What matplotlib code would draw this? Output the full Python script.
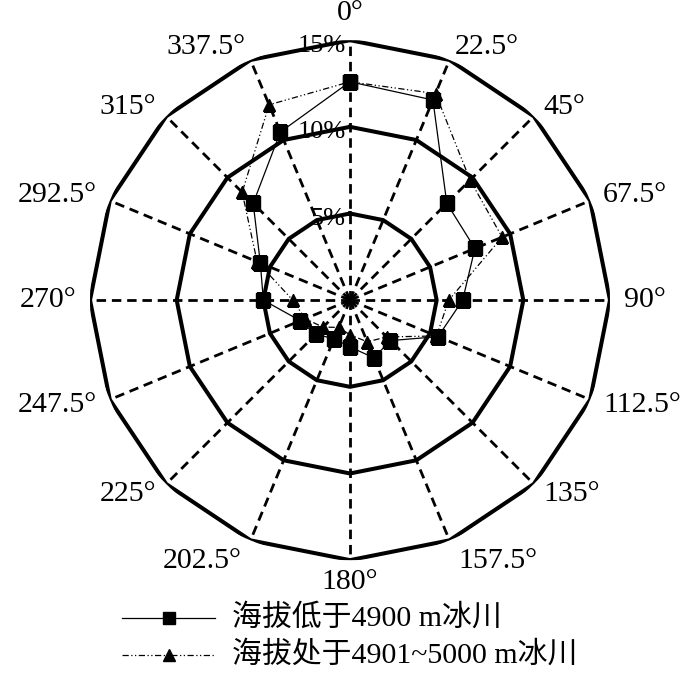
import numpy as np
import matplotlib
matplotlib.use("Agg")
import matplotlib.pyplot as plt
from matplotlib.lines import Line2D

# directions (degrees, clockwise from north) and frequencies (%)
directions = [0, 22.5, 45, 67.5, 90, 112.5, 135, 157.5,
              180, 202.5, 225, 247.5, 270, 292.5, 315, 337.5]
dir_labels = ["0°", "22.5°", "45°", "67.5°", "90°", "112.5°", "135°", "157.5°",
              "180°", "202.5°", "225°", "247.5°", "270°", "292.5°", "315°", "337.5°"]
below_4900 = [12.6, 12.5, 7.9, 7.8, 6.5, 5.5, 3.3, 3.6,
              2.7, 2.4, 2.8, 3.1, 5.0, 5.6, 7.9, 10.5]
from_4901_5000 = [12.6, 12.9, 9.8, 9.5, 5.7, 5.4, 3.0, 2.6,
                  2.0, 1.7, 2.2, 2.8, 3.3, 5.8, 8.8, 12.2]
ring_values = [5, 10, 15]
ring_labels = ["5%", "10%", "15%"]
series_names = ["海拔低于4900 m冰川", "海拔处于4901~5000 m冰川"]

SERIF = ["Liberation Serif", "Noto Sans CJK SC"]
W, H = 700, 673

fig = plt.figure(figsize=(W / 100, H / 100), dpi=100)
ax = fig.add_axes([0.1286, 0.1677, 0.7428, 0.7726], projection="polar")
ax.set_theta_zero_location("N")
ax.set_theta_direction(-1)
ax.set_ylim(0, 15)
ax.axis("off")

theta = np.deg2rad(directions)
theta_closed = np.append(theta, theta[0])

# spokes
for t in theta:
    ax.plot([t, t], [0, 15], color="black", lw=2.0,
            linestyle=(0, (3.4, 2.1)), zorder=1)

# polygon rings
for rv in ring_values:
    ax.plot(theta_closed, [rv] * len(theta_closed), color="black", lw=2.9,
            solid_joinstyle="miter", zorder=2)

# ring labels on the 0 deg spoke
for rv, lbl in zip(ring_values, ring_labels):
    ax.annotate(lbl, xy=(0, rv), xytext=(-3, -4), textcoords="offset points",
                ha="right", va="center", fontsize=19, family=SERIF, zorder=3)

# direction labels
for t, lbl in zip(theta, dir_labels):
    s, c = np.sin(t), np.cos(t)
    ha = "left" if s > 0.1 else ("right" if s < -0.1 else "center")
    if c > 0.95:
        va = "bottom"
    elif c < -0.95:
        va = "top"
    else:
        va = "center"
    if c < -0.95:
        r = 15.5
    elif c < -0.9:
        r = 16.3
    else:
        r = 15.8
    ax.text(t, r, lbl, ha=ha, va=va, fontsize=21.5, family=SERIF,
            clip_on=False)

dashdotdot = (0, (5, 2, 1, 2, 1, 2))
v2 = np.append(from_4901_5000, from_4901_5000[0])
v1 = np.append(below_4900, below_4900[0])
ax.plot(theta_closed, v2, color="black", lw=0.9, linestyle=dashdotdot,
        marker="^", markersize=9, zorder=4)
ax.plot(theta_closed, v1, color="black", lw=0.9, linestyle="-",
        marker="s", markersize=9.5, zorder=5)

# legend drawn by hand
legend_rows = [
    dict(ls="-", marker="s", ms=9, y=618),
    dict(ls=dashdotdot, marker="^", ms=8.5, y=655),
]
for row, name in zip(legend_rows, series_names):
    yf = 1 - row["y"] / H
    fig.add_artist(Line2D([122 / W, 215 / W], [yf, yf], transform=fig.transFigure,
                          color="black", lw=0.9, linestyle=row["ls"]))
    fig.add_artist(Line2D([168.5 / W], [yf], transform=fig.transFigure,
                          color="black", marker=row["marker"], ms=row["ms"],
                          linestyle="none"))
    fig.text(232 / W, yf, name, ha="left", va="center", fontsize=21.5,
             family=SERIF)

fig.savefig("out.png", dpi=100)
